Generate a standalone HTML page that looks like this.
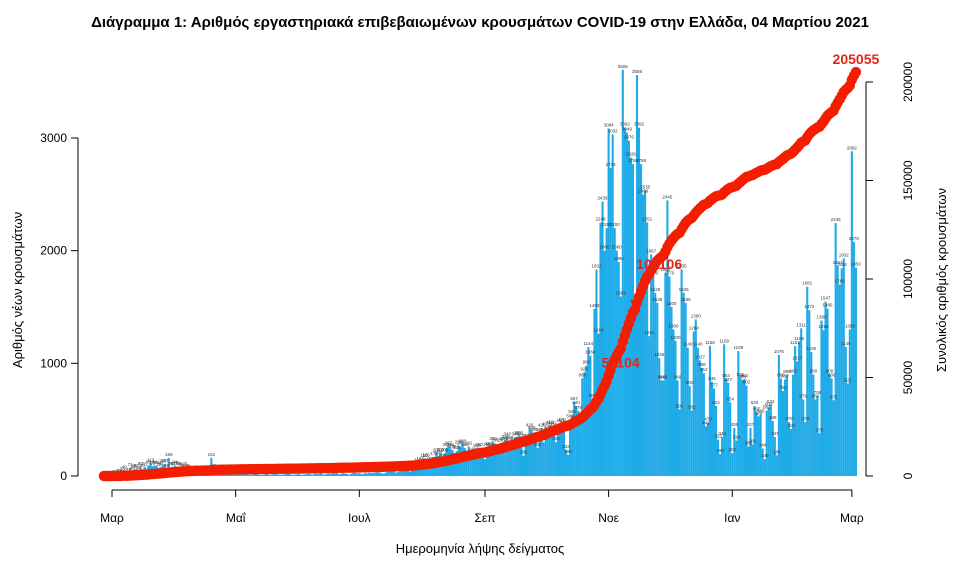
<!DOCTYPE html>
<html><head><meta charset="utf-8">
<style>
body{margin:0;background:#fff;}
svg{display:block;font-family:"Liberation Sans","DejaVu Sans",sans-serif;}
</style></head>
<body>
<svg id="chart" width="960" height="571" viewBox="0 0 960 571">
<text x="480" y="27" text-anchor="middle" font-size="15" font-weight="bold" fill="#000">Διάγραμμα 1: Αριθμός εργαστηριακά επιβεβαιωμένων κρουσμάτων COVID-19 στην Ελλάδα, 04 Μαρτίου 2021</text>
<g id="bars"></g>
<g id="barlabels"></g>
<g id="cumline"></g>
<g id="axes"></g>
<text x="480" y="553" text-anchor="middle" font-size="13">Ημερομηνία λήψης δείγματος</text>
<text transform="translate(22,290) rotate(-90)" text-anchor="middle" font-size="13">Αριθμός νέων κρουσμάτων</text>
<text transform="translate(946,280) rotate(-90)" text-anchor="middle" font-size="13">Συνολικός αριθμός κρουσμάτων</text>
</svg>
<script>
const febTail2020 = [2,0,0,2];
const mar2020 = [4,3,10,20,15,33,49,15,27,71,38,58,62,40,80,60,75,31,95,113,85,94,90,72,80,100,107,60,159,75,80];
const apr2020 = [94,85,80,70,60,75,62,55,40,45,50,38,30,35,42,28,25,25,161,60,50,35,30,25,20,18,15,20,22,15];
const may2020 = [18,15,12,20,18,14,16,10,12,15,20,14,10,9,12,18,15,10,12,20,16,14,12,10,14,18,22,15,10,12,14];
const jun2020 = [18,12,10,14,16,20,15,12,22,18,20,25,15,12,20,22,18,28,24,30,15,20,25,22,18,12,20,28,30,22];
const jul2020 = [25,20,18,28,22,30,25,28,30,35,32,25,20,30,35,40,38,45,30,35,40,45,50,60,55,40,60,70,80,110,124];
const aug2020 = [110,150,155,100,121,125,170,200,180,206,150,200,250,262,246,230,159,220,270,260,280,250,181,262,180,200,210,240,250,190,160];
const sep2020 = [150,250,259,240,300,290,200,230,290,300,320,340,310,230,300,340,350,350,330,180,290,330,420,400,380,320,250,380,420,300];
const oct2020 = [430,400,450,440,421,300,400,460,470,450,233,188,500,540,657,620,579,470,866,920,980,1144,1068,685,1483,1832,1264,2248,2436,2000,2200];
const nov2020 = [3084,2734,3032,2200,2000,1900,1593,3605,3092,3049,2976,2826,2768,1524,3558,3092,2768,2499,2535,2251,1241,1967,1770,1625,1536,1046,849,849,1800,2445];
const dec2020 = [1770,1500,1300,1200,849,591,1835,1626,1536,1140,800,582,1284,1390,1140,1027,958,912,441,473,1156,836,777,622,322,195,344,1169,863,827,654];
const jan2021 = [202,426,314,1109,871,854,862,802,262,427,281,620,565,529,545,244,149,582,609,632,488,347,184,1076,866,754,857,898,478,418,900];
const feb2021 = [1152,1017,1188,1311,679,478,1681,1472,1100,900,680,708,379,1380,1294,1547,1485,900,866,672,2245,1863,1700,1844,1932,1146,822,1300];
const mar2021 = [2882,2078,1850];
const leftTicks = [0,1000,2000,3000];
const rightTicks = [0,50000,100000,150000,200000];
const monthLabels = ["Μαρ","Μαΐ","Ιουλ","Σεπ","Νοε","Ιαν","Μαρ"];
const monthTickDays = [4,65,126,188,249,310,369];
const highlightTotals = [50000,100000];

const daily = [].concat(febTail2020,mar2020,apr2020,may2020,jun2020,jul2020,aug2020,sep2020,oct2020,nov2020,dec2020,jan2021,feb2021,mar2021);
const NS='http://www.w3.org/2000/svg';
const X0=103.9, DX=2.027, Y0=476;
const x = i => X0 + i*DX;
const yL = v => Y0 - v*0.11267;
const yR = v => Y0 - v/200000*394;
function mk(tag,attrs,parent){const e=document.createElementNS(NS,tag);for(const k in attrs)e.setAttribute(k,attrs[k]);parent.appendChild(e);return e;}
const gb=document.getElementById('bars'), gl=document.getElementById('barlabels'), gc=document.getElementById('cumline'), ga=document.getElementById('axes');
daily.forEach((v,i)=>{
  const r=mk('rect',{x:(x(i)-1.05).toFixed(2),y:yL(v).toFixed(2),width:2.1,height:(Y0-yL(v)).toFixed(2),fill:'#1fabe8'},gb);
  
  
  const t=mk('text',{x:x(i).toFixed(2),y:(yL(v)-2).toFixed(2),'font-size':4.5,'text-anchor':'middle',fill:'#333'},gl);
  t.textContent=v;
  
  
});
let cum=0; const cumVals=daily.map(v=>(cum+=v));
cumVals.forEach((c,i)=>{
  const p=mk('circle',{cx:x(i).toFixed(2),cy:yR(c).toFixed(2),r:5.2,fill:'#f51d00'},gc);
  
  
});
highlightTotals.forEach(th=>{
  const i=cumVals.findIndex(c=>c>=th);
  if(i<0)return;
  const t=mk('text',{x:x(i)+12,y:yR(cumVals[i])-8,'font-size':14,'font-weight':'bold','text-anchor':'middle',fill:'#e0261a'},gc);
  t.textContent=cumVals[i];
  
  
});
{const n=cumVals.length-1;
 const t=mk('text',{x:x(n),y:yR(cumVals[n])-8,'font-size':14,'font-weight':'bold','text-anchor':'middle',fill:'#e0261a'},gc);
 t.textContent=cumVals[n];
 
 }
// left axis
mk('line',{x1:78,y1:yL(0),x2:78,y2:yL(3000),stroke:'#000'},ga);
leftTicks.forEach(v=>{
  mk('line',{x1:71,y1:yL(v),x2:78,y2:yL(v),stroke:'#000'},ga);
  const t=mk('text',{x:67,y:yL(v)+4,'font-size':12,'text-anchor':'end'},ga);t.textContent=v;
  
  
});
// right axis
mk('line',{x1:866,y1:yR(0),x2:866,y2:yR(200000),stroke:'#000'},ga);
rightTicks.forEach(v=>{
  mk('line',{x1:866,y1:yR(v),x2:873,y2:yR(v),stroke:'#000'},ga);
  const t=mk('text',{transform:`translate(${912},${yR(v)}) rotate(-90)`,'font-size':12,'text-anchor':'middle'},ga);t.textContent=v;
  
  
});
// bottom axis
mk('line',{x1:x(monthTickDays[0]),y1:490,x2:x(monthTickDays[monthTickDays.length-1]),y2:490,stroke:'#000'},ga);
monthTickDays.forEach((d,k)=>{
  mk('line',{x1:x(d),y1:490,x2:x(d),y2:497,stroke:'#000'},ga);
  const t=mk('text',{x:x(d),y:522,'font-size':12,'text-anchor':'middle'},ga);t.textContent=monthLabels[k];
  
  
});
</script>
</body></html>
